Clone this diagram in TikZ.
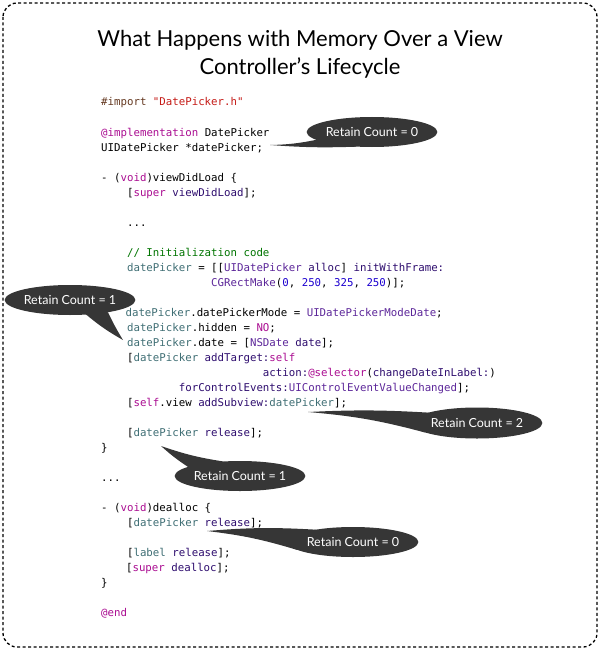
\documentclass[tikz,border=0pt]{standalone}
\usepackage{fontspec}
\setmainfont{Lato}
\newfontfamily\codefont{DejaVu Sans Mono}
\usetikzlibrary{shapes.geometric}
\pgfdeclarelayer{bg}
\pgfsetlayers{bg,main}
\definecolor{ckw}{HTML}{AA0D91}
\definecolor{cpre}{HTML}{643820}
\definecolor{cstr}{HTML}{C41A16}
\definecolor{ccom}{HTML}{007400}
\definecolor{cnum}{HTML}{1C00CF}
\definecolor{ccls}{HTML}{5C2699}
\definecolor{cmth}{HTML}{2E0D6E}
\definecolor{cvar}{HTML}{3F6E74}
\definecolor{bubblegray}{HTML}{363636}
\newcommand\Kw[1]{\textcolor{ckw}{#1}}
\newcommand\Pre[1]{\textcolor{cpre}{#1}}
\newcommand\Str[1]{\textcolor{cstr}{#1}}
\newcommand\Com[1]{\textcolor{ccom}{#1}}
\newcommand\Num[1]{\textcolor{cnum}{#1}}
\newcommand\Cls[1]{\textcolor{ccls}{#1}}
\newcommand\Mth[1]{\textcolor{cmth}{#1}}
\newcommand\Var[1]{\textcolor{cvar}{#1}}
\begin{document}
\begin{tikzpicture}[x=1pt,y=-1pt,
  codeline/.style={anchor=base west, inner sep=0pt, font=\codefont\fontsize{10.75}{13}\selectfont},
  bubble/.style={ellipse, fill=bubblegray, text=white, inner sep=0pt, font=\fontsize{12.5}{14}\selectfont},
  tail/.style={fill=bubblegray},
  frame/.style={draw=black, line width=1.3pt, dash pattern=on 3pt off 2.5pt, rounded corners=14pt},
  titletext/.style={align=center, font=\fontsize{22}{28}\selectfont, inner sep=0pt}]
\def\cx{101}\def\cw{6.47}\def\cy{106}\def\lh{15}
\useasboundingbox (0,0) rectangle (600,650);
\draw[frame] (3,3) rectangle (597,647);
\node[titletext] (title) at (300,54) {What Happens with Memory Over a View\\Controller’s Lifecycle};
% code
\node[codeline] (l0)  at ({\cx},{\cy+0*\lh}) {\Pre{\#import} \Str{\textquotedbl DatePicker.h\textquotedbl}};
\node[codeline] (l2)  at ({\cx},{\cy+2*\lh}) {\Kw{@implementation} DatePicker};
\node[codeline] (l3)  at ({\cx},{\cy+3*\lh}) {UIDatePicker *datePicker;};
\node[codeline] (l5)  at ({\cx},{\cy+5*\lh}) {- (\Kw{void})viewDidLoad \{};
\node[codeline] (l6)  at ({\cx+4*\cw},{\cy+6*\lh}) {[\Kw{super} \Mth{viewDidLoad}];};
\node[codeline] (l8)  at ({\cx+4*\cw},{\cy+8*\lh}) {...};
\node[codeline] (l10) at ({\cx+4*\cw},{\cy+10*\lh}) {\Com{// Initialization code}};
\node[codeline] (l11) at ({\cx+4*\cw},{\cy+11*\lh}) {\Var{datePicker} = [[\Cls{UIDatePicker} \Mth{alloc}] \Mth{initWithFrame:}};
\node[codeline] (l12) at ({\cx+17*\cw},{\cy+12*\lh}) {\Cls{CGRectMake}(\Num{0}, \Num{250}, \Num{325}, \Num{250})];};
\node[codeline] (l14) at ({\cx+4*\cw-1.5},{\cy+14*\lh}) {\Var{datePicker}.datePickerMode = \Cls{UIDatePickerModeDate};};
\node[codeline] (l15) at ({\cx+4*\cw},{\cy+15*\lh}) {\Var{datePicker}.hidden = \Kw{NO};};
\node[codeline] (l16) at ({\cx+4*\cw},{\cy+16*\lh}) {\Var{datePicker}.date = [\Cls{NSDate} \Mth{date}];};
\node[codeline] (l17) at ({\cx+4*\cw},{\cy+17*\lh}) {[\Var{datePicker} \Mth{addTarget:}\Kw{self}};
\node[codeline] (l18) at ({\cx+25*\cw},{\cy+18*\lh}) {\Mth{action:}\Kw{@selector}(\Mth{changeDateInLabel:})};
\node[codeline] (l19) at ({\cx+12*\cw},{\cy+19*\lh}) {\Mth{forControlEvents:}\Cls{UIControlEventValueChanged}];};
\node[codeline] (l20) at ({\cx+4*\cw},{\cy+20*\lh}) {[\Kw{self}.view \Mth{addSubview:}\Var{datePicker}];};
\node[codeline] (l22) at ({\cx+4*\cw},{\cy+22*\lh}) {[\Var{datePicker} \Mth{release}];};
\node[codeline] (l23) at ({\cx},{\cy+23*\lh}) {\}};
\node[codeline] (l25) at ({\cx},{\cy+25*\lh}) {...};
\node[codeline] (l27) at ({\cx},{\cy+27*\lh}) {- (\Kw{void})dealloc \{};
\node[codeline] (l28) at ({\cx+4*\cw},{\cy+28*\lh}) {[\Var{datePicker} \Mth{release}];};
\node[codeline] (l30) at ({\cx+4*\cw},{\cy+30*\lh}) {[\Var{label} \Mth{release}];};
\node[codeline] (l31) at ({\cx+4*\cw-1},{\cy+31*\lh}) {[\Kw{super} \Mth{dealloc}];};
\node[codeline] (l32) at ({\cx},{\cy+32*\lh}) {\}};
\node[codeline] (l34) at ({\cx},{\cy+34*\lh}) {\Kw{@end}};
% bubbles
\node[bubble, minimum width=124pt, minimum height=30pt] (b1) at (372,132) {Retain Count = 0};
\node[bubble, minimum width=118pt, minimum height=30pt] (b2) at (70,300) {Retain Count = 1};
\node[bubble, minimum width=130pt, minimum height=31pt] (b3) at (477,423) {Retain Count = 2};
\node[bubble, minimum width=128pt, minimum height=30pt] (b4) at (240,476) {Retain Count = 1};
\node[bubble, minimum width=127pt, minimum height=30pt] (b5) at (353,542) {Retain Count = 0};
\coordinate (t1) at (270,145);
\coordinate (t2) at (123,340);
\coordinate (t3) at (308,412);
\coordinate (t4) at (161,446);
\coordinate (t5) at (207,531);
\begin{pgfonlayer}{bg}
\fill[tail] (b1.center) -- (b1.188) to[bend left=5] (t1) to[bend right=3] (b1.222) -- cycle;
\fill[tail] (b2.center) -- (b2.318) to[bend right=5] (t2) to[bend left=3] (b2.342) -- cycle;
\fill[tail] (b3.center) -- (b3.168) to[bend right=3] (t3) to[bend left=5] (b3.190) -- cycle;
\fill[tail] (b4.center) -- (b4.140) to[bend left=5] (t4) to[bend right=4] (b4.170) -- cycle;
\fill[tail] (b5.center) -- (b5.162) to[bend right=4] (t5) to[bend left=5] (b5.188) -- cycle;
\end{pgfonlayer}
\end{tikzpicture}
\end{document}
